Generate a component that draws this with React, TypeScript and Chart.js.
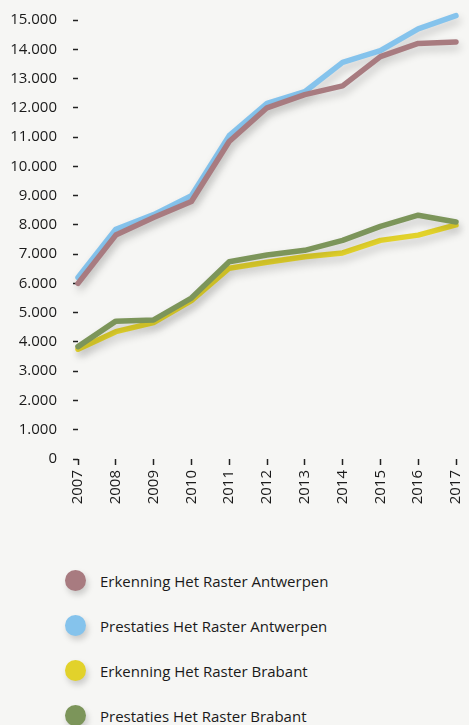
import React, { useEffect, useRef } from "react";
import { Chart, registerables } from "chart.js";

Chart.register(...registerables);

const years = ["2007", "2008", "2009", "2010", "2011", "2012", "2013", "2014", "2015", "2016", "2017"];
const erkenningAntwerpen = [6000, 7650, 8250, 8800, 10850, 12000, 12450, 12750, 13750, 14200, 14250];
const prestatiesAntwerpen = [6200, 7850, 8350, 9000, 11050, 12150, 12550, 13550, 13950, 14700, 15150];
const erkenningBrabant = [3750, 4350, 4660, 5410, 6520, 6720, 6910, 7040, 7470, 7650, 8000];
const prestatiesBrabant = [3840, 4710, 4750, 5500, 6740, 6970, 7130, 7470, 7950, 8330, 8100];
const seriesNames = [
  "Erkenning Het Raster Antwerpen",
  "Prestaties Het Raster Antwerpen",
  "Erkenning Het Raster Brabant",
  "Prestaties Het Raster Brabant",
];
const seriesColors = ["#a87b80", "#85c3ec", "#e2d22b", "#7c955a"];
const seriesData = [erkenningAntwerpen, prestatiesAntwerpen, erkenningBrabant, prestatiesBrabant];
const drawOrder = [3, 4, 2, 1];

const FONT = "'Open Sans', sans-serif";
const BG = "#f6f6f4";

const fmt = (v: number) => String(v).replace(/\B(?=(\d{3})+(?!\d))/g, ".");

const shadowPlugin = {
  id: "lineShadow",
  beforeDatasetsDraw(chart: any) {
    const ctx = chart.ctx;
    ctx.save();
    ctx.shadowColor = "rgba(0,0,0,0.2)";
    ctx.shadowBlur = 8;
    ctx.shadowOffsetX = 2;
    ctx.shadowOffsetY = 5;
  },
  afterDatasetsDraw(chart: any) {
    chart.ctx.restore();
  },
};

export default function App() {
  const ref = useRef<HTMLCanvasElement>(null);
  useEffect(() => {
    const chart = new Chart(ref.current!, {
      type: "line",
      data: {
        labels: years,
        datasets: seriesData.map((d, i) => ({
          label: seriesNames[i],
          data: d,
          borderColor: seriesColors[i],
          backgroundColor: seriesColors[i],
          borderWidth: 5.5,
          borderCapStyle: "round",
          borderJoinStyle: "round",
          pointRadius: 0,
          tension: 0,
          clip: false,
          order: drawOrder[i],
        })),
      },
      plugins: [shadowPlugin],
      options: {
        animation: false,
        responsive: false,
        maintainAspectRatio: false,
        layout: { padding: { top: 20, right: 13, left: 0, bottom: 0 } },
        plugins: { legend: { display: false }, tooltip: { enabled: false } },
        scales: {
          x: {
            offset: false,
            border: { display: false },
            grid: {
              drawOnChartArea: false,
              drawTicks: true,
              tickLength: 6,
              tickColor: "#222",
              tickWidth: 1.5,
            },
            ticks: {
              minRotation: 90,
              maxRotation: 90,
              padding: 5,
              color: "#1a1a1a",
              font: { family: FONT, size: 15 },
            },
            afterFit(s: any) {
              s.height = 71;
              s.paddingLeft = 0;
              s.paddingRight = 0;
            },
          },
          y: {
            min: 0,
            max: 15000,
            border: { display: false },
            grid: {
              drawOnChartArea: false,
              drawTicks: true,
              tickLength: 5,
              tickColor: "#222",
              tickWidth: 1.5,
            },
            ticks: {
              stepSize: 1000,
              padding: 16,
              color: "#1a1a1a",
              font: { family: FONT, size: 15 },
              callback: (v: any) => fmt(Number(v)),
            },
            afterFit(s: any) {
              s.width = 78;
              s.paddingTop = 0;
              s.paddingBottom = 0;
            },
          },
        },
      },
    });
    return () => chart.destroy();
  }, []);

  return (
    <div style={{ position: "fixed", left: 0, top: 0, width: 469, height: 725, background: BG, overflow: "hidden" }}>
      <canvas ref={ref} width={469} height={530} style={{ position: "absolute", left: 0, top: 0 }} />
      {seriesNames.map((n, i) => (
        <div key={n} style={{ position: "absolute", left: 0, top: 580.5 + i * 45 - 12, height: 24, width: 469 }}>
          <div
            style={{
              position: "absolute",
              left: 64.5,
              top: 1.5,
              width: 21,
              height: 21,
              borderRadius: "50%",
              background: seriesColors[i],
              boxShadow: "2px 4px 6px rgba(0,0,0,0.18)",
            }}
          />
          <div
            style={{
              position: "absolute",
              left: 100,
              top: 0,
              height: 24,
              lineHeight: "24px",
              fontFamily: FONT,
              fontSize: 15,
              color: "#1a1a1a",
              whiteSpace: "nowrap",
            }}
          >
            {n}
          </div>
        </div>
      ))}
    </div>
  );
}
